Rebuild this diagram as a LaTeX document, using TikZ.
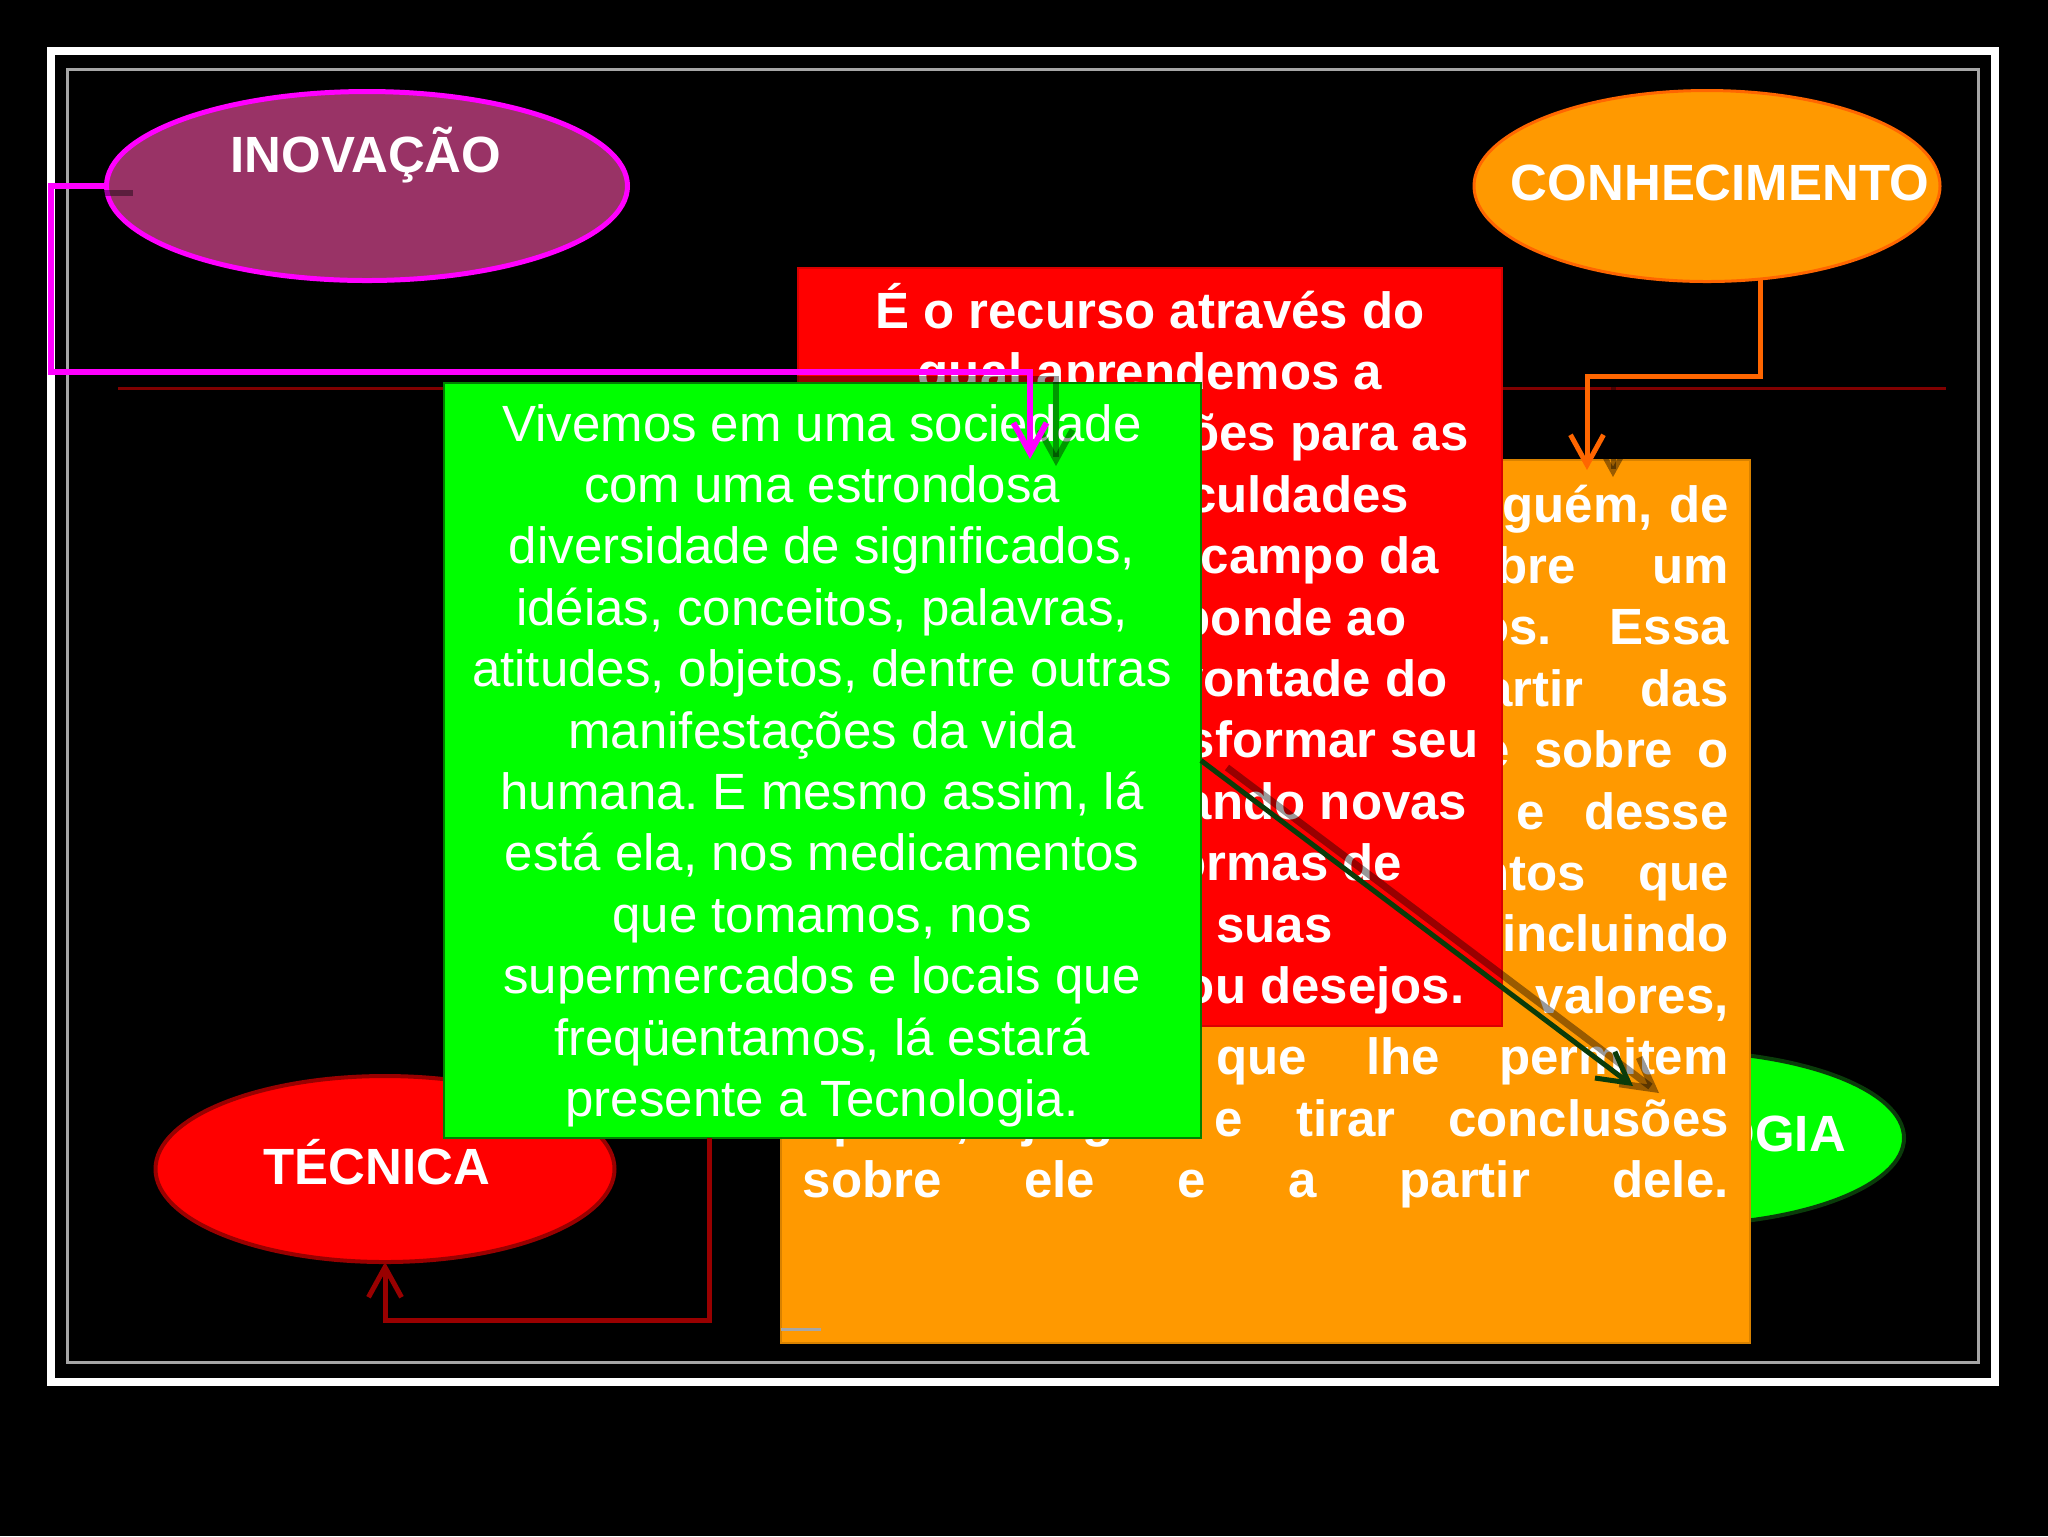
\documentclass[tikz,border=0pt]{standalone}
\usepackage{fontspec}
\setmainfont{Liberation Sans}
\usetikzlibrary{shapes.geometric,arrows.meta}
\definecolor{plum}{HTML}{993366}
\definecolor{pinkline}{HTML}{FF00FF}
\definecolor{orangefill}{HTML}{FF9900}
\definecolor{orangeline}{HTML}{FF6600}
\definecolor{darkred}{HTML}{990000}
\definecolor{rulered}{HTML}{800000}
\definecolor{darkgreen}{HTML}{0A3C0A}
\definecolor{framegray}{HTML}{A6A6A6}
\newcommand{\slidefont}{\fontsize{14.5pt}{17.5pt}\selectfont}
\frenchspacing
\begin{document}
\begin{tikzpicture}[x=0.1mm,y=-0.1mm,
    bubble/.style={ellipse,inner sep=0pt,outer sep=0pt},
    bubbletext/.style={anchor=base,inner sep=0pt,text=white,font=\slidefont\bfseries},
    panel/.style={rectangle,anchor=north west,inner sep=0pt,outer sep=0pt},
    redline/.style={anchor=base,inner sep=0pt,text=white,font=\slidefont\bfseries},
    greenline/.style={anchor=base,inner sep=0pt,text=white,font=\slidefont},
    orangeline/.style={anchor=base west,inner sep=0pt,text=white,font=\slidefont\bfseries},
    vtip/.style={-{Straight Barb[length=3mm,width=3.3mm]}},
    shadowed/.style={preaction={draw=black,opacity=0.4,line width=#1,vtip,
        transform canvas={shift={(26,7)}}}},
    magline/.style={draw=pinkline,line width=0.6mm,vtip,shadowed=0.6mm},
    orgline/.style={draw=orangeline,line width=0.5mm,vtip,shadowed=0.5mm},
    tecline/.style={draw=darkred,line width=0.5mm,vtip},
    diagline/.style={draw=darkgreen,line width=0.5mm,vtip,shadowed=0.7mm}]
  \useasboundingbox (0,0) rectangle (2048,1536);
  \fill[black] (0,0) rectangle (2048,1536);
  % frame
  \draw[white,line width=0.8mm] (51,51) rectangle (1995,1382);
  \draw[framegray,line width=0.3mm] (67,69) rectangle (1978,1362);
  \draw[rulered,line width=0.3mm] (118,388) -- (1946,388);
  % ellipses
  \node[bubble,fill=plum,draw=pinkline,line width=0.5mm,
    minimum width=52.1mm,minimum height=18.9mm] (inovacao) at (367,186) {};
  \node[bubbletext] (inovacaolbl) at (366,172) {INOVAÇÃO};
  \node[bubble,fill=orangefill,draw=orangeline,line width=0.3mm,
    minimum width=46.6mm,minimum height=19.1mm] (conhecimento) at (1707,186) {};
  \node[bubbletext] (conhecimentolbl) at (1720,200) {CONHECIMENTO};
  \node[bubble,fill=red,draw=darkred,line width=0.4mm,
    minimum width=45.9mm,minimum height=18.6mm] (tecnica) at (385,1169) {};
  \node[bubbletext] (tecnicalbl) at (377,1184) {TÉCNICA};
  \node[bubble,fill=green,draw=darkgreen,line width=0.4mm,
    minimum width=45.6mm,minimum height=17.4mm] (tecnologia) at (1676,1138) {};
  \node[bubbletext] (tecnologialbl) at (1676,1151) {TECNOLOGIA};
  % boxes
  \node[panel,fill=orangefill,draw=orangefill!85!black,line width=0.2mm,
    minimum width=96.9mm,minimum height=88.3mm] (orangebox) at (781,460) {};
  \foreach \ln [count=\i from 0] in {{Trata-se da capacidade de alguém, de},
      {compreender coisas sobre um},{assunto, ou sobre vários. Essa},
      {capacidade se dá a partir das},{informações que se adquire sobre o},
      {mesmo assunto ou tema e desse},{conjunto dos conhecimentos que},
      {se relacionam entre si, incluindo},{experiências, costumes, valores,},
      {crenças, etc. que lhe permitem},{opinar, julgar e tirar conclusões},
      {sobre ele e a partir dele.}}
    \node[orangeline] (orgln\i) at (802,522+61.4*\i) {\makebox[92.6mm][s]{\ln}};
  \node[panel,fill=red,draw=red!85!black,line width=0.2mm,
    minimum width=70.4mm,minimum height=75.8mm] (redbox) at (798,268) {};
  \foreach \ln [count=\i from 0] in {{É o recurso através do},{qual aprendemos a},
      {procurar soluções para as},{diversas dificuldades},{existentes no campo da},
      {vida, corresponde ao},{interesse e à vontade do},{homem de transformar seu},
      {mundo, elaborando novas},{técnicas e formas de},{satisfazer suas},
      {necessidades ou desejos.}}
    \node[redline] (redln\i) at (1150,328+61.4*\i) {\ln};
  \node[panel,fill=green,draw=green!50!black,line width=0.2mm,
    minimum width=75.7mm,minimum height=75.5mm] (greenbox) at (444,383) {};
  \foreach \ln [count=\i from 0] in {{Vivemos em uma sociedade},{com uma estrondosa},
      {diversidade de significados,},{idéias, conceitos, palavras,},
      {atitudes, objetos, dentre outras},{manifestações da vida},
      {humana. E mesmo assim, lá},{está ela, nos medicamentos},
      {que tomamos, nos},{supermercados e locais que},
      {freqüentamos, lá estará},{presente a Tecnologia.}}
    \node[greenline] (grnln\i) at (822,441+61.4*\i) {\ln};
  \draw[framegray,line width=0.3mm] (orangebox.south west) ++(0,-14) -- ++(40,0);
  % connectors
  \coordinate (diagtip) at (1633,1086);
  \draw[diagline] (greenbox.east) -- (diagtip);
  \coordinate (tecbend) at (709,1320);
  \draw[tecline] (greenbox.south -| tecbend) -- (tecbend) -| (tecnica.south);
  \coordinate (orgtip) at (1587,470);
  \draw[orgline] (conhecimento.-60) -- ++(0,98) -| (orgtip);
  \coordinate (magleft) at (51,372);
  \coordinate (magtip) at (1030,459);
  \draw[magline] (inovacao.west) -| (magleft) -| (magtip);
\end{tikzpicture}
\end{document}
